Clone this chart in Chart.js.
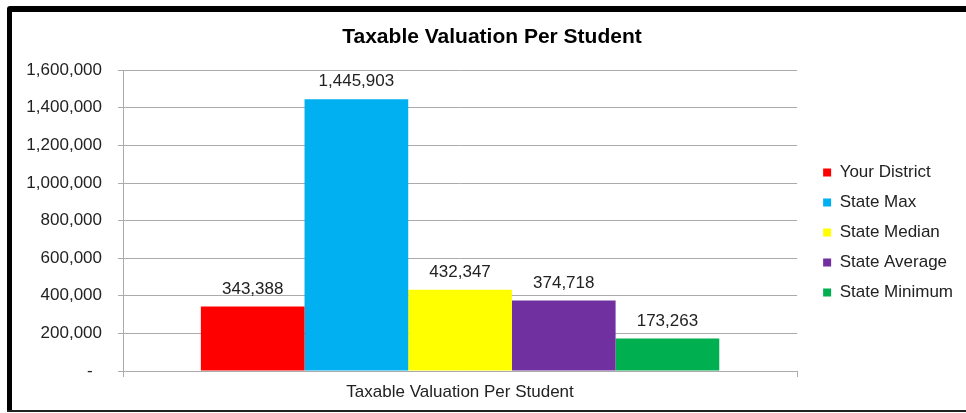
<!DOCTYPE html>
<html>
<head>
<meta charset="utf-8">
<script src="https://cdn.jsdelivr.net/npm/chart.js@4.4.0/dist/chart.umd.min.js"></script>
<style>
  html, body { margin: 0; padding: 0; background: #fff; }
  canvas { display: block; }
</style>
</head>
<body>
<canvas id="c" width="966" height="413"></canvas>
<script>
const chartTitle = 'Taxable Valuation Per Student';
const categories = ['Taxable Valuation Per Student'];
const seriesNames = ['Your District', 'State Max', 'State Median', 'State Average', 'State Minimum'];
const seriesValues = [343388, 1445903, 432347, 374718, 173263];
const seriesColors = ['#FF0000', '#00B0F0', '#FFFF00', '#7030A0', '#00B050'];
const yTicks = [0, 200000, 400000, 600000, 800000, 1000000, 1200000, 1400000, 1600000];

const FONT = "'Liberation Sans', Arial, sans-serif";
const TEXT = '#222222';
const GRID = '#ababab';
const LEGEND_DX = 13;
const LEGEND_DY = 20;
const TITLE_DX = 8;

Chart.defaults.font.family = FONT;
const fmt = v => v.toLocaleString('en-US');

const framePlugin = {
  id: 'frame',
  beforeDraw(chart) {
    const ctx = chart.ctx;
    ctx.save();
    ctx.fillStyle = '#ffffff';
    ctx.fillRect(0, 0, chart.width, chart.height);
    ctx.fillStyle = '#000000';
    ctx.beginPath();
    ctx.moveTo(7, 412);
    ctx.lineTo(7, 9);
    ctx.quadraticCurveTo(7, 6, 10, 6);
    ctx.lineTo(chart.width, 6);
    ctx.lineTo(chart.width, 12);
    ctx.lineTo(12, 12);
    ctx.lineTo(12, 412);
    ctx.closePath();
    ctx.fill();
    ctx.fillStyle = '#222222';
    ctx.fillRect(7, 410, chart.width - 7, 2);
    ctx.restore();
  }
};

const boxShift = {
  id: 'boxShift',
  afterLayout(chart) {
    const l = chart.legend;
    l.left += LEGEND_DX; l.right += LEGEND_DX;
    l.top += LEGEND_DY; l.bottom += LEGEND_DY;
    const t = chart.titleBlock;
    if (t) { t.left += TITLE_DX; t.right += TITLE_DX; }
  }
};

const valueLabels = {
  id: 'valueLabels',
  afterDatasetsDraw(chart) {
    const ctx = chart.ctx;
    ctx.save();
    ctx.font = '17px ' + FONT;
    ctx.fillStyle = TEXT;
    ctx.textAlign = 'center';
    ctx.textBaseline = 'middle';
    chart.data.datasets.forEach((ds, i) => {
      const meta = chart.getDatasetMeta(i);
      meta.data.forEach((bar, j) => {
        ctx.fillText(fmt(ds.data[j]), bar.x, bar.y - 17.5);
      });
    });
    ctx.restore();
  }
};

new Chart(document.getElementById('c'), {
  type: 'bar',
  data: {
    labels: categories,
    datasets: seriesNames.map((name, i) => ({
      label: name,
      data: [seriesValues[i]],
      backgroundColor: seriesColors[i],
      borderWidth: 0
    }))
  },
  options: {
    responsive: false,
    animation: false,
    devicePixelRatio: 1,
    layout: { padding: { left: 18, right: 16, top: 12, bottom: 0 } },
    datasets: { bar: { barPercentage: 1, categoryPercentage: 0.769 } },
    plugins: {
      title: {
        display: true,
        text: chartTitle,
        color: '#000',
        font: { size: 21, weight: 'bold', family: FONT },
        padding: { top: 13, bottom: 20 }
      },
      legend: {
        position: 'right',
        labels: {
          boxWidth: 8,
          boxHeight: 8,
          padding: 13,
          color: TEXT,
          font: { size: 17, family: FONT }
        }
      },
      tooltip: { enabled: false }
    },
    scales: {
      x: {
        grid: { drawOnChartArea: false, drawTicks: true, tickLength: 6, color: GRID, offset: true },
        border: { display: true, color: GRID },
        ticks: { color: TEXT, font: { size: 17 }, padding: 5 },
        afterFit(s) { s.height = 42; }
      },
      y: {
        min: yTicks[0],
        max: yTicks[yTicks.length - 1],
        afterBuildTicks(s) { s.ticks = yTicks.map(v => ({ value: v })); },
        grid: { color: GRID, tickLength: 5, drawTicks: true },
        border: { display: true, color: GRID },
        ticks: {
          color: TEXT,
          font: { size: 17 },
          padding: 16,
          callback: v => (v === 0 ? '-  ' : fmt(v))
        },
        afterFit(s) { s.width = 105; }
      }
    }
  },
  plugins: [framePlugin, boxShift, valueLabels]
});
</script>
</body>
</html>
